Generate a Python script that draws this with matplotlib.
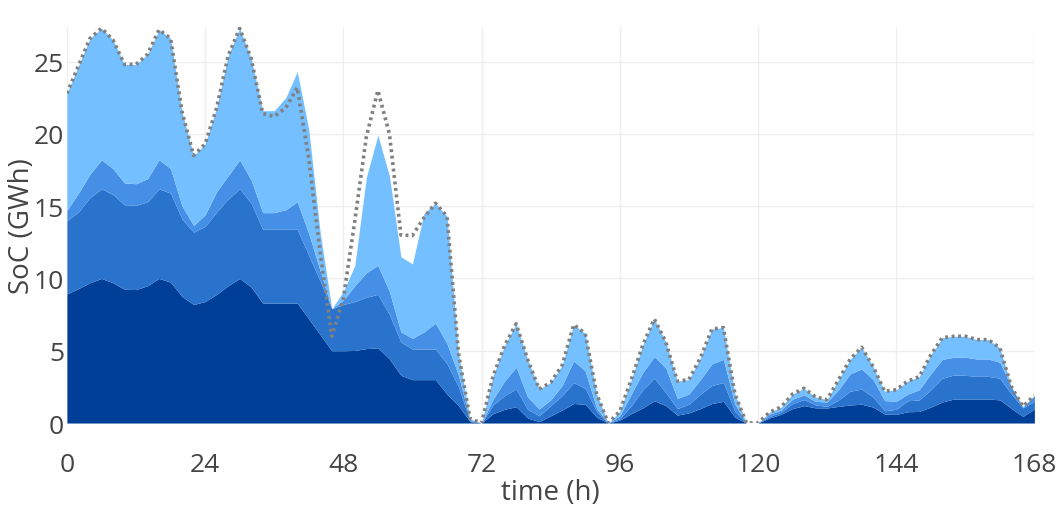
import numpy as np
import matplotlib.pyplot as plt

plt.rcParams['font.family'] = ['Open Sans', 'DejaVu Sans']

# hours of the week, 2 h steps
hours = np.arange(0, 169, 2)

# cumulative state of charge (GWh), bottom storage group first
soc_top1 = [8.93, 9.3, 9.7, 10.0, 9.7, 9.25, 9.23, 9.5, 10.0, 9.74, 8.75, 8.2,
            8.4, 8.9, 9.5, 10.0, 9.4, 8.29, 8.29, 8.29, 8.29, 7.2, 6.1, 5.0,
            5.0, 5.02, 5.15, 5.2, 4.43, 3.3, 3.0, 3.0, 3.0, 2.0, 1.2, 0.1,
            0.0, 0.65, 0.95, 1.13, 0.35, 0.1, 0.5, 0.9, 1.35, 1.3, 0.4, 0.0,
            0.2, 0.65, 1.05, 1.54, 1.2, 0.55, 0.7, 1.0, 1.35, 1.5, 0.4, 0.0,
            0.0, 0.35, 0.6, 1.0, 1.2, 1.05, 1.04, 1.15, 1.25, 1.3, 1.1, 0.62,
            0.6, 0.78, 0.8, 1.1, 1.45, 1.66, 1.66, 1.66, 1.66, 1.6, 1.0, 0.46,
            0.97]
soc_top2 = [14.0, 14.6, 15.6, 16.2, 15.8, 15.1, 15.05, 15.3, 16.2, 15.9, 14.1, 13.2,
            13.6, 14.6, 15.5, 16.2, 15.2, 13.4, 13.4, 13.4, 13.4, 11.6, 9.8, 7.9,
            8.2, 8.4, 8.7, 8.9, 7.5, 5.6, 5.12, 5.12, 5.12, 4.1, 2.5, 0.15,
            0.0, 1.25, 1.9, 2.35, 0.95, 0.5, 1.2, 1.9, 2.8, 2.4, 0.8, 0.0,
            0.3, 1.2, 2.3, 3.1, 2.1, 1.0, 1.3, 2.0, 2.6, 2.8, 0.8, 0.0,
            0.0, 0.45, 0.75, 1.35, 1.62, 1.25, 1.15, 1.6, 2.2, 2.35, 1.8, 0.85,
            0.95, 1.54, 1.6, 2.3, 3.1, 3.32, 3.3, 3.23, 3.23, 3.1, 2.0, 1.05,
            1.5]
soc_top3 = [14.7, 15.9, 17.2, 18.2, 17.6, 16.6, 16.55, 16.9, 18.2, 17.6, 15.0, 13.66,
            14.4, 16.0, 17.1, 18.2, 16.8, 14.55, 14.55, 14.75, 15.3, 13.1, 10.5, 7.9,
            8.5, 9.5, 10.4, 10.9, 9.1, 6.3, 5.86, 6.3, 6.9, 5.5, 3.3, 0.2,
            0.0, 1.65, 2.9, 3.86, 1.8, 0.97, 1.6, 2.6, 4.3, 3.6, 1.0, 0.0,
            0.5, 2.0, 3.5, 4.6, 3.8, 1.7, 2.0, 3.0, 4.1, 4.4, 1.3, 0.0,
            0.0, 0.6, 0.9, 1.65, 1.94, 1.5, 1.45, 2.3, 3.4, 3.74, 3.0, 1.55,
            1.5, 2.0, 2.3, 3.4, 4.4, 4.55, 4.55, 4.43, 4.43, 4.2, 2.5, 1.1,
            1.9]
soc_top4 = [22.8, 24.7, 26.6, 27.3, 26.5, 24.8, 24.8, 25.5, 27.2, 26.6, 21.5, 18.5,
            19.3, 21.8, 25.4, 27.3, 25.2, 21.6, 21.6, 22.5, 24.3, 20.3, 13.1, 7.9,
            9.1, 10.9, 17.0, 19.9, 17.1, 11.5, 11.0, 14.5, 15.2, 14.3, 4.8, 0.3,
            0.0, 3.25, 5.35, 6.86, 4.4, 2.35, 2.8, 4.0, 6.8, 6.2, 2.0, 0.0,
            0.8, 3.0, 5.4, 7.2, 5.6, 2.9, 3.0, 4.5, 6.5, 6.6, 2.0, 0.0,
            0.0, 0.74, 1.1, 2.0, 2.4, 1.8, 1.62, 3.0, 4.4, 5.24, 3.9, 2.2,
            2.3, 2.9, 3.2, 4.7, 5.9, 6.0, 6.0, 5.77, 5.77, 5.2, 2.5, 1.15,
            1.9]
# total storage SoC reference
soc_total = [22.8, 24.7, 26.6, 27.3, 26.5, 24.8, 24.8, 25.5, 27.2, 26.6, 21.5, 18.5,
             19.3, 21.8, 25.4, 27.3, 25.2, 21.4, 21.2, 21.8, 23.2, 18.3, 11.7, 6.0,
             8.6, 14.0, 19.8, 23.0, 20.0, 13.0, 12.97, 14.2, 15.2, 14.3, 4.8, 0.3,
             0.0, 3.25, 5.35, 6.86, 4.4, 2.35, 2.8, 4.0, 6.8, 6.2, 2.0, 0.0,
             0.8, 3.0, 5.4, 7.2, 5.6, 2.9, 3.0, 4.5, 6.5, 6.6, 2.0, 0.0,
             0.0, 0.74, 1.1, 2.0, 2.4, 1.8, 1.62, 3.0, 4.4, 5.24, 3.9, 2.2,
             2.3, 2.9, 3.2, 4.7, 5.9, 6.0, 6.0, 5.77, 5.77, 5.2, 2.5, 1.15,
             1.9]

colors = ['#003f97', '#2a73cd', '#458fe6', '#74bfff']
x_ticks = [0, 24, 48, 72, 96, 120, 144, 168]
y_ticks = [0, 5, 10, 15, 20, 25]

fig = plt.figure(figsize=(10.62, 5.06), dpi=100)
ax = fig.add_axes([0.063, 0.162, 0.911, 0.783])

levels = [np.zeros(len(hours)), soc_top1, soc_top2, soc_top3, soc_top4]
for i in range(4):
    ax.fill_between(hours, levels[i], levels[i + 1], color=colors[i], lw=0, zorder=2)
ax.plot(hours, soc_total, color='#808080', lw=2.6, ls=(0, (0.8, 1.0)), zorder=3)

ax.set_xlim(0, 168)
ax.set_ylim(0, 27.4)
ax.set_xticks(x_ticks)
ax.set_yticks(y_ticks)
ax.grid(True, color='#eeeeee', lw=1, zorder=0)
ax.set_axisbelow(True)
for s in ax.spines.values():
    s.set_visible(False)
ax.tick_params(length=0, labelsize=19, colors='#444444')
ax.tick_params(axis='x', pad=21)
ax.tick_params(axis='y', pad=2)
ax.set_xlabel('time (h)', fontsize=20, color='#444444', va='center')
ax.set_ylabel('SoC (GWh)', fontsize=20, color='#444444', va='center')
ax.xaxis.set_label_coords(0.5, -0.174)
ax.yaxis.set_label_coords(-0.0465, 0.5)

fig.savefig('out.png', dpi=100)
